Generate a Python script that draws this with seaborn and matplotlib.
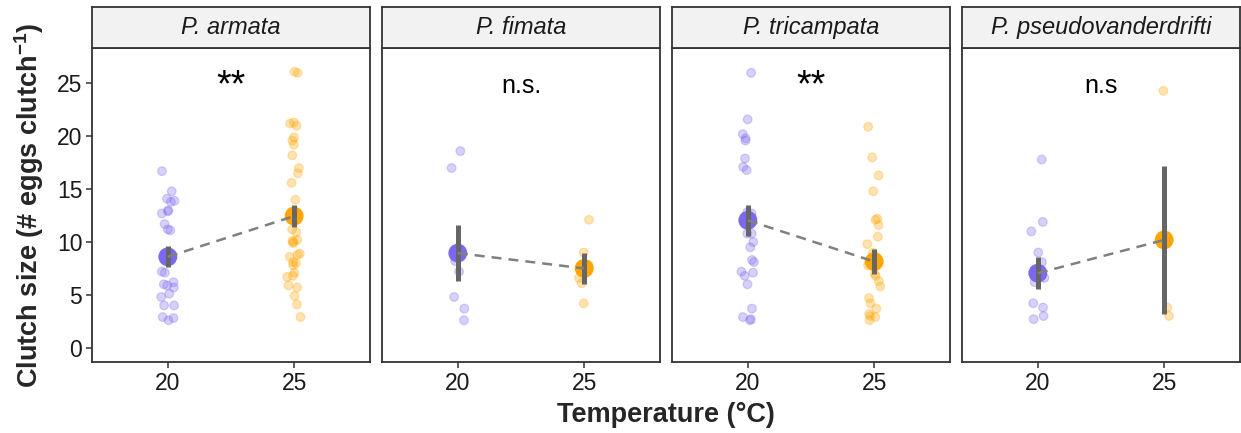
import numpy as np
import pandas as pd
import matplotlib
matplotlib.use("Agg")
import matplotlib.pyplot as plt
import seaborn as sns

# ---- data -------------------------------------------------------------
species = ["P. armata", "P. fimata", "P. tricampata", "P. pseudovanderdrifti"]
temps = [20, 25]

armata_20 = [16.7, 14.8, 14.1, 13.8, 13.9, 13.0, 12.9, 12.7, 11.7, 11.2, 11.1,
             8.8, 8.4, 7.2, 7.1, 6.2, 6.0, 5.9, 5.7, 4.8, 5.1, 4.0, 4.0,
             2.6, 2.8, 2.9]
armata_25 = [26.1, 26.0, 21.0, 21.3, 21.2, 19.9, 19.6, 19.2, 18.2, 17.0, 16.5,
             15.6, 14.0, 12.8, 12.3, 11.2, 10.9, 10.1, 10.0, 10.2, 9.9, 8.9,
             8.6, 8.8, 8.1, 7.8, 8.0, 7.1, 6.8, 6.7, 5.9, 5.7, 4.9, 4.1, 2.9]
fimata_20 = [18.6, 17.0, 8.2, 7.2, 4.8, 3.7, 2.6]
fimata_25 = [12.1, 9.0, 7.8, 6.6, 6.1, 4.2]
tricampata_20 = [26.0, 21.6, 20.2, 19.8, 19.6, 17.9, 17.1, 16.8, 12.8, 12.7,
                 12.3, 11.6, 10.8, 10.8, 10.0, 9.5, 8.3, 8.1, 7.2, 7.1, 6.8,
                 6.0, 3.7, 2.7, 2.9, 2.6]
tricampata_25 = [20.9, 18.0, 16.3, 14.8, 12.1, 12.2, 11.6, 10.5, 9.8, 9.0, 8.5,
                 7.8, 7.0, 6.8, 6.3, 5.8, 4.7, 4.2, 3.7, 3.2, 3.0, 2.9, 2.6]
pseudo_20 = [17.8, 11.9, 11.0, 9.0, 8.1, 6.6, 6.2, 4.2, 3.8, 3.0, 2.7]
pseudo_25 = [24.3, 3.8, 3.0]

# group means and standard errors
mean_20 = [8.6, 8.95, 12.05, 7.05]
mean_25 = [12.45, 7.5, 8.15, 10.2]
se_20 = [1.0, 2.65, 1.45, 1.5]
se_25 = [1.05, 1.5, 1.15, 7.0]

signif = ["**", "n.s.", "**", "n.s"]

raw = {
    "P. armata": (armata_20, armata_25),
    "P. fimata": (fimata_20, fimata_25),
    "P. tricampata": (tricampata_20, tricampata_25),
    "P. pseudovanderdrifti": (pseudo_20, pseudo_25),
}

rows = []
for sp, (v20, v25) in raw.items():
    rows += [(sp, 20, v) for v in v20]
    rows += [(sp, 25, v) for v in v25]
df = pd.DataFrame(rows, columns=["species", "temp", "clutch"])

summary = pd.DataFrame({
    "species": np.repeat(species, 2),
    "temp": temps * len(species),
    "mean": [m for pair in zip(mean_20, mean_25) for m in pair],
    "se": [s for pair in zip(se_20, se_25) for s in pair],
})

palette = {20: "#7B68EE", 25: "#FFA500"}

# ---- styling ----------------------------------------------------------
sns.set_theme(style="white")
plt.rcParams["font.family"] = ["Liberation Sans", "DejaVu Sans"]
plt.rcParams["mathtext.fontset"] = "custom"
plt.rcParams["mathtext.rm"] = "Liberation Sans"
plt.rcParams["mathtext.bf"] = "Liberation Sans:bold"
plt.rcParams["mathtext.default"] = "bf"

W, H = 1241, 433
fig = plt.figure(figsize=(W / 100, H / 100), dpi=100)

frame_col = "#333333"
panel_left = [92, 382, 672, 962]
pw = 278
p_top, p_bot, s_top = 48, 362, 7

np.random.seed(7)
for i, sp in enumerate(species):
    ax = fig.add_axes([panel_left[i] / W, 1 - p_bot / H, pw / W, (p_bot - p_top) / H])
    sax = fig.add_axes([panel_left[i] / W, 1 - p_top / H, pw / W, (p_top - s_top) / H])

    sub = df[df.species == sp]
    summ = summary[summary.species == sp]

    # raw observations, jittered horizontally
    sns.stripplot(data=sub, x="temp", y="clutch", hue="temp", palette=palette,
                  native_scale=True, jitter=0.055, size=6.2, alpha=0.3,
                  linewidth=0.9, edgecolor="face", legend=False, ax=ax, zorder=1)
    # group means with standard-error bars, joined by a dashed line
    sns.scatterplot(data=summ, x="temp", y="mean", hue="temp", palette=palette,
                    s=185, linewidth=0, legend=False, ax=ax, zorder=3)
    ax.vlines(summ["temp"], summ["mean"] - summ["se"], summ["mean"] + summ["se"],
              color="#666666", lw=3.6, zorder=4)
    sns.lineplot(data=summ, x="temp", y="mean", color="#808080", lw=1.8,
                 linestyle=(0, (4, 2.8)), ax=ax, zorder=5)

    ax.text(22.5, 24.75, signif[i], ha="center", va="center",
            fontsize=18 if signif[i] != "**" else 27, color="black")

    ax.set_xlim(17, 28)
    ax.set_ylim(-1.35, 28.35)
    ax.set_xticks(temps)
    ax.set_yticks([0, 5, 10, 15, 20, 25])
    ax.set_xlabel("")
    ax.set_ylabel("")
    ax.tick_params(axis="both", labelsize=16.5, colors=frame_col, labelcolor="#1a1a1a",
                   length=4, width=1.1, pad=3, direction="out",
                   bottom=True, left=(i == 0))
    if i > 0:
        ax.tick_params(axis="y", labelleft=False, left=False)
    for s in ax.spines.values():
        s.set_color(frame_col)
        s.set_linewidth(1.3)
        s.set_visible(True)

    sax.set_facecolor("#F2F2F2")
    sax.set_xticks([])
    sax.set_yticks([])
    for s in sax.spines.values():
        s.set_color(frame_col)
        s.set_linewidth(1.3)
    sax.text(0.5, 0.5, sp, transform=sax.transAxes, ha="center", va="center",
             fontsize=17, style="italic", color="#1a1a1a")

fig.text(666 / W, 1 - 415 / H, "Temperature (°C)", ha="center", va="center",
         fontsize=19.5, fontweight="bold")
fig.text(29 / W, 1 - 205 / H, r"Clutch size (# eggs clutch$^{-1}$)", ha="center",
         va="center", rotation=90, fontsize=19.5, fontweight="bold")

fig.savefig("out.png", dpi=100)
